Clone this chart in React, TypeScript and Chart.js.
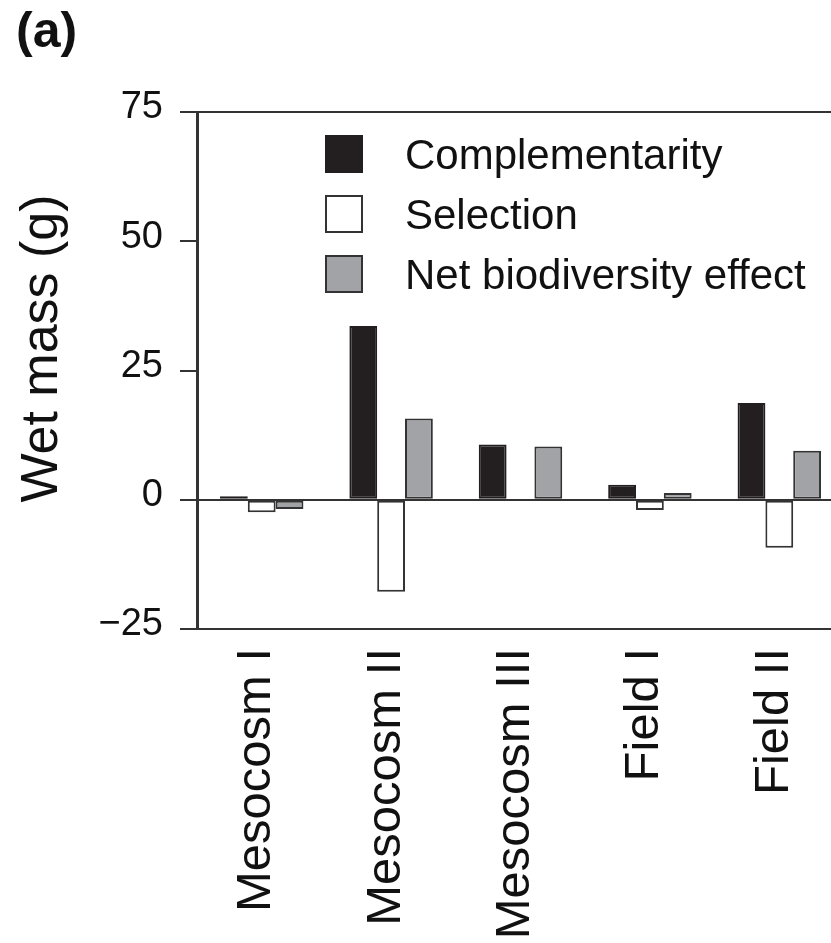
import React, { useEffect, useRef } from "react";
import { Chart, registerables } from "chart.js";

Chart.register(...registerables);

const categories = ["Mesocosm I", "Mesocosm II", "Mesocosm III", "Field I", "Field II"];
const complementarity = [0.7, 33.6, 10.7, 2.9, 18.7];
const selection = [-2.4, -17.8, 0, -2.0, -9.3];
const netEffect = [-1.8, 15.7, 10.3, 1.3, 9.5];
const yTicks = [-25, 0, 25, 50, 75];
const panelLabel = "(a)";
const yTitle = "Wet mass (g)";

const FONT = '"Liberation Sans", Arial, Helvetica, sans-serif';
const EDGE = "#333333";

const overlayPlugin = {
  id: "overlay",
  afterDraw(chart: any) {
    const { ctx, chartArea } = chart;
    ctx.save();
    // panel label
    ctx.fillStyle = "#111";
    ctx.font = `bold 50px ${FONT}`;
    ctx.textAlign = "left";
    ctx.textBaseline = "alphabetic";
    ctx.fillText(panelLabel, 16, 47);

    // y title
    ctx.save();
    ctx.font = `52px ${FONT}`;
    ctx.textAlign = "center";
    ctx.textBaseline = "middle";
    ctx.translate(43, (chartArea.top + chartArea.bottom) / 2 - 22);
    ctx.rotate(-Math.PI / 2);
    ctx.fillText(yTitle, 0, 0);
    ctx.restore();

    // legend
    const bx = chartArea.left + 128;
    const by = chartArea.top + 23;
    const size = 38;
    const gap = 60;
    chart.data.datasets.forEach((ds: any, i: number) => {
      const y = by + i * gap;
      ctx.fillStyle = ds.backgroundColor;
      ctx.fillRect(bx, y, size, size);
      ctx.strokeStyle = ds.borderColor;
      ctx.lineWidth = 2;
      ctx.strokeRect(bx + 1, y + 1, size - 2, size - 2);
      ctx.fillStyle = "#111";
      ctx.font = `42px ${FONT}`;
      ctx.textAlign = "left";
      ctx.textBaseline = "alphabetic";
      ctx.fillText(ds.label, bx + 80, y + size / 2 + 15);
    });
    ctx.restore();
  },
};

export default function App() {
  const ref = useRef<HTMLCanvasElement | null>(null);
  useEffect(() => {
    if (!ref.current) return;
    const chart = new Chart(ref.current, {
      type: "bar",
      data: {
        labels: categories,
        datasets: [
          {
            label: "Complementarity",
            data: complementarity,
            backgroundColor: "#231f20",
            borderColor: "#231f20",
            borderWidth: 2,
            borderSkipped: false,
          },
          {
            label: "Selection",
            data: selection,
            backgroundColor: "#ffffff",
            borderColor: EDGE,
            borderWidth: 2,
            borderSkipped: false,
          },
          {
            label: "Net biodiversity effect",
            data: netEffect,
            backgroundColor: "#a2a3a7",
            borderColor: EDGE,
            borderWidth: 2,
            borderSkipped: false,
          },
        ],
      },
      options: {
        responsive: false,
        animation: false,
        devicePixelRatio: 1,
        categoryPercentage: 0.645,
        barPercentage: 1,
        layout: { padding: { top: 112, left: 0, right: 1, bottom: 0 } },
        plugins: {
          legend: { display: false },
          tooltip: { enabled: false },
          title: { display: false },
        },
        scales: {
          x: {
            grid: { display: false, drawTicks: false },
            border: { display: false },
            ticks: {
              autoSkip: false,
              minRotation: 90,
              maxRotation: 90,
              padding: 19,
              labelOffset: -5,
              color: "#111",
              font: { family: FONT, size: 49, lineHeight: 0.8 },
            },
            afterFit(scale: any) {
              scale.height = 314;
            },
          },
          y: {
            min: -25,
            max: 75,
            afterBuildTicks(scale: any) {
              scale.ticks = yTicks.map((v) => ({ value: v }));
            },
            grid: {
              color: (c: any) =>
                c.tick && (c.tick.value === 0 || c.tick.value === 75 || c.tick.value === -25)
                  ? EDGE
                  : "rgba(0,0,0,0)",
              lineWidth: 2,
              tickColor: EDGE,
              tickWidth: 2,
              tickLength: 17,
              drawTicks: true,
            },
            border: { display: true, color: EDGE, width: 3 },
            ticks: {
              padding: 17,
              labelOffset: -4,
              color: "#111",
              font: { family: FONT, size: 38 },
              callback: (v: any) => (Number(v) < 0 ? "\u2212" + Math.abs(Number(v)) : String(v)),
            },
            afterFit(scale: any) {
              scale.width = 197;
            },
          },
        },
      },
      plugins: [overlayPlugin],
    });
    return () => chart.destroy();
  }, []);

  return (
    <div
      style={{
        position: "fixed",
        left: 0,
        top: 0,
        width: 831,
        height: 943,
        overflow: "hidden",
        background: "#fff",
      }}
    >
      <div style={{ width: 845, height: 943 }}>
        <canvas ref={ref} width={845} height={943} style={{ display: "block", width: 845, height: 943 }} />
      </div>
    </div>
  );
}
